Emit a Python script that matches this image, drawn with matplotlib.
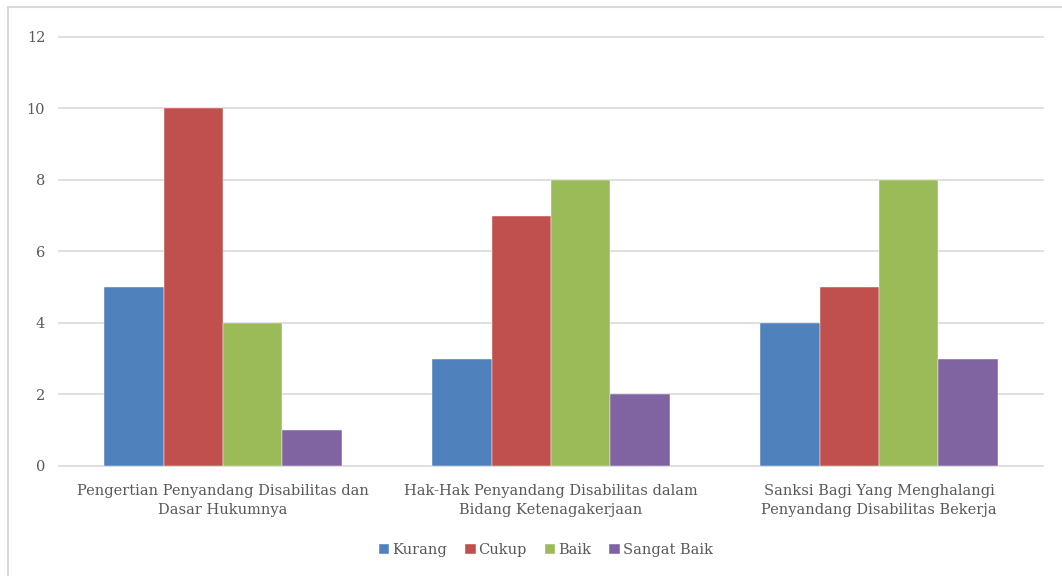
import matplotlib.pyplot as plt
import numpy as np
from matplotlib.patches import Rectangle

categories = [
    "Pengertian Penyandang Disabilitas dan\nDasar Hukumnya",
    "Hak-Hak Penyandang Disabilitas dalam\nBidang Ketenagakerjaan",
    "Sanksi Bagi Yang Menghalangi\nPenyandang Disabilitas Bekerja",
]
series = ["Kurang", "Cukup", "Baik", "Sangat Baik"]
kurang = [5, 3, 4]
cukup = [10, 7, 5]
baik = [4, 8, 8]
sangat_baik = [1, 2, 3]
values = [kurang, cukup, baik, sangat_baik]
colors = ["#4F81BD", "#C0504D", "#9BBB59", "#8064A2"]

plt.rcParams["font.family"] = "DejaVu Serif"
text_color = "#595959"

fig = plt.figure(figsize=(10.62, 5.76), dpi=100)
ax = fig.add_axes([0.0556, 0.191, 0.9266, 0.7448])

x = np.arange(len(categories))
w = 0.181
for i, (name, vals) in enumerate(zip(series, values)):
    ax.bar(x + (i - 1.5) * w, vals, w, color=colors[i], label=name,
           edgecolor="white", linewidth=0.3, zorder=3)

ax.set_xlim(-0.5, 2.5)
ax.set_ylim(0, 12)
ax.set_yticks(range(0, 13, 2))
ax.yaxis.grid(True, color="#D9D9D9", linewidth=1.2, zorder=0)
for line in ax.get_ygridlines():
    line.set_clip_on(False)
for s in ax.spines.values():
    s.set_visible(False)
ax.tick_params(length=0, colors=text_color, labelsize=10.5)
ax.tick_params(axis="y", pad=10)
ax.tick_params(axis="x", pad=13)
ax.set_xticks(x)
ax.set_xticklabels(categories, color=text_color, fontsize=10.5, linespacing=1.45)

ax.legend(loc="center", bbox_to_anchor=(0.514, 0.045), bbox_transform=fig.transFigure,
          ncol=4, frameon=False, fontsize=10.5, handlelength=0.7, handleheight=0.7,
          handletextpad=0.2, columnspacing=1.25, labelcolor=text_color)

fig.add_artist(Rectangle((8 / 1062, -0.01), 1.0, 1 - 7 / 576 + 0.01,
                         transform=fig.transFigure, fill=False,
                         edgecolor="#D9D9D9", linewidth=1.5))

fig.savefig("out.png", dpi=100)
